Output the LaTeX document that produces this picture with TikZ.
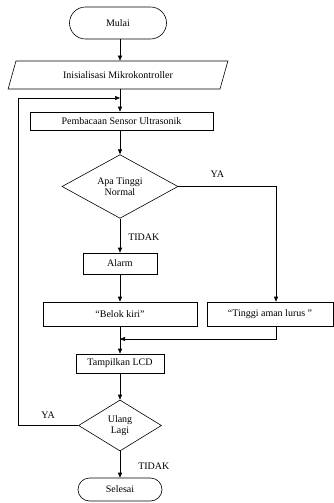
\documentclass[tikz,border=0pt]{standalone}
\usepackage{fontspec}
\setmainfont{Liberation Serif}
\usetikzlibrary{shapes.geometric,shapes.misc,arrows.meta}
\begin{document}
\begin{tikzpicture}[x=1pt,y=-1pt,
  every node/.style={font=\fontsize{10}{11.5}\selectfont, inner sep=0pt, align=center},
  box/.style={draw, rectangle, line width=0.6pt},
  term/.style={draw, rounded rectangle, line width=0.6pt},
  dia/.style={draw, diamond, line width=0.6pt},
  lbl/.style={font=\fontsize{10}{11.5}\selectfont},
  arr/.style={line width=0.6pt, -{Triangle[length=5pt,width=4pt]}},
  ln/.style={line width=0.6pt}]
\useasboundingbox (0,0) rectangle (334,503);
\node[term, minimum width=97pt, minimum height=32pt] (mulai) at (118,23) {Mulai};
\node[draw, trapezium, trapezium left angle=59, trapezium right angle=121, trapezium stretches=true, line width=0.6pt, minimum width=220pt, minimum height=28pt] (init) at (118,75) {Inisialisasi Mikrokontroller};
\node[box, minimum width=183pt, minimum height=18pt] (baca) at (121.5,121) {Pembacaan Sensor Ultrasonik};
\node[dia, minimum width=116pt, minimum height=63pt] (apa) at (120,186.5) {Apa Tinggi\\Normal};
\node[box, minimum width=74pt, minimum height=21pt] (alarm) at (120,263.5) {Alarm};
\node[box, minimum width=154pt, minimum height=24pt] (belok) at (120,314) {``Belok kiri''};
\node[box, minimum width=126pt, minimum height=24pt] (tinggi) at (270,314) {``Tinggi aman lurus ''};
\node[box, minimum width=88pt, minimum height=19pt] (lcd) at (120,363.5) {Tampilkan LCD};
\node[dia, minimum width=83pt, minimum height=51pt] (ulang) at (120,425.5) {Ulang\\Lagi};
\node[term, minimum width=84pt, minimum height=23pt] (selesai) at (120,489.5) {Selesai};
\coordinate (jn) at (120,98);
\coordinate (mj) at (120,339);
\coordinate (rx) at (276,0);
\coordinate (lx) at (18,0);
\draw[arr] (mulai.south -| 120,0) -- (init.north -| 120,0);
\draw[ln] (init.south -| 120,0) -- (jn);
\draw[arr] (jn) -- (baca.north -| 120,0);
\draw[arr] (baca.south -| 120,0) -- (apa.north);
\draw[arr] (apa.south) -- node[lbl, right=8pt, pos=0.55] {TIDAK} (alarm.north);
\draw[arr] (apa.east) -- node[lbl, above=9pt, pos=0.4] {YA} (rx |- apa.east) -- (rx |- tinggi.north);
\draw[arr] (alarm.south) -- (belok.north);
\draw[ln] (belok.south) -- (mj);
\draw[arr] (rx |- tinggi.south) |- (mj);
\draw[arr] (mj) -- (lcd.north);
\draw[arr] (lcd.south) -- (ulang.north);
\draw[arr] (ulang.south) -- node[lbl, right=18pt, pos=0.55] {TIDAK} (selesai.north);
\draw[arr] (ulang.west) -- node[lbl, above=7pt, pos=0.5] {YA} (lx |- ulang.west) -- (lx |- jn) -- (jn);
\end{tikzpicture}
\end{document}
